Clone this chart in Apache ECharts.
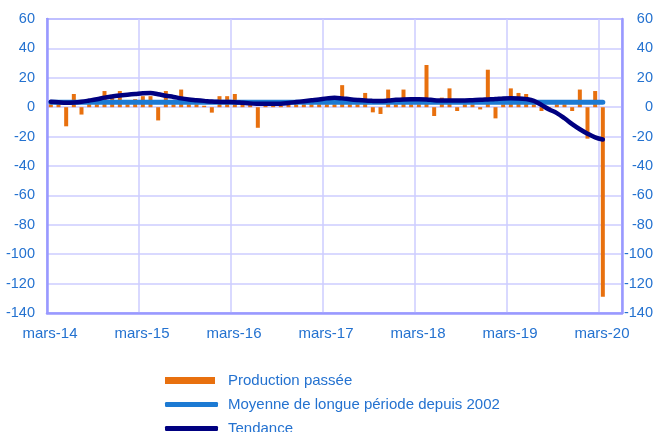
<!DOCTYPE html>
<html>
<head>
<meta charset="utf-8">
<script src="https://cdn.jsdelivr.net/npm/echarts@6/dist/echarts.min.js"></script>
<style>
  html, body { margin: 0; padding: 0; background: #fff; }
  #chart { width: 659px; height: 432px; }
</style>
</head>
<body>
<div id="chart"></div>
<script>
// étiquettes de l'axe des dates (une tous les 12 mois)
var yearLabels = ['mars-14', 'mars-15', 'mars-16', 'mars-17', 'mars-18', 'mars-19', 'mars-20'];

// production passée, mensuel de mars-14 à mars-20
var production = [
  2, 2, -13, 9, -5, 2, 2, 11, 8.5, 11, 2, 5.5,
  7.5, 7.5, -9, 11, 2, 12, 2, 2, 1, -3.7, 7.5, 7.5,
  9, 2, 2, -14, 1.5, 1, 1, 1.5, 2, 2, 2, 2,
  2, 2, 15, 2, 2, 9.7, -3.5, -4.6, 12, 2, 12, 2,
  2, 28.7, -6, 6.5, 12.8, -2.6, 2, 2, -1.5, 25.5, -7.6, 2,
  12.8, 9.7, 9, 2, -2.6, -1, 2, 2, -2.6, 12, -21.4, 11,
  -129
];

// moyenne de longue période depuis 2002
var moyenne = [];
for (var k = 0; k < production.length; k++) moyenne.push(3.3);

// tendance
var tendance = [
  3.7, 3.3, 3.0, 3.2, 3.7, 4.5, 5.4, 6.5, 7.3, 8.0, 8.5, 9.0,
  9.5, 9.6, 8.8, 7.8, 7.0, 6.0, 5.3, 4.8, 4.3, 3.8, 3.6, 3.5,
  3.4, 3.0, 2.6, 2.4, 2.3, 2.3, 2.4, 2.9, 3.5, 4.1, 4.7, 5.3,
  6.0, 6.4, 6.0, 5.4, 4.9, 4.5, 4.3, 4.2, 4.5, 5.0, 5.3, 5.4,
  5.4, 5.3, 4.8, 4.6, 4.5, 4.5, 4.6, 4.8, 5.0, 5.3, 5.6, 6.0,
  6.1, 6.0, 5.5, 4.3, 1.5, -1.5, -4.0, -7.5, -11.5, -15.0, -18.0, -20.5,
  -22.0
];

var seriesNames = ['Production passée', 'Moyenne de longue période depuis 2002', 'Tendance'];

// chaque mois est centré dans sa case (axe en mois depuis mars-14)
function toPoints(arr) {
  return arr.map(function (v, i) { return [i + 0.5, v]; });
}

var blue = '#2472D0';
var font = 'Liberation Sans, Arial, sans-serif';

var chart = echarts.init(document.getElementById('chart'));

var yAxisBase = {
  type: 'value',
  min: -140,
  max: 60,
  interval: 20,
  axisLine: { show: true, lineStyle: { color: '#9999ff', width: 2.5 } },
  axisTick: { show: false },
  splitLine: { show: true, lineStyle: { color: '#ccccff', width: 1.5 } }
};

var legendBase = {
  orient: 'horizontal',
  left: 160,
  selectedMode: false
};

function legendText(padLeft) {
  return { color: blue, fontSize: 15, fontFamily: font, padding: [0, 0, 0, padLeft] };
}

var option = {
  animation: false,
  backgroundColor: '#fff',
  grid: {
    left: 47, right: 37, top: 19, bottom: 119,
    show: true, borderColor: '#9999ff', borderWidth: 2
  },
  legend: [
    Object.assign({}, legendBase, {
      top: 368, data: [seriesNames[0]], icon: 'rect', itemWidth: 50, itemHeight: 7,
      textStyle: legendText(8)
    }),
    Object.assign({}, legendBase, {
      top: 392, data: [seriesNames[1]], icon: 'roundRect', itemWidth: 53, itemHeight: 5,
      textStyle: legendText(5)
    }),
    Object.assign({}, legendBase, {
      top: 416, data: [seriesNames[2]], icon: 'roundRect', itemWidth: 53, itemHeight: 5,
      textStyle: legendText(5)
    })
  ],
  xAxis: {
    type: 'value',
    min: 0,
    max: 75,
    interval: 12,
    axisLine: { show: true, onZero: false, lineStyle: { color: '#9999ff', width: 2.5 } },
    axisTick: { show: false },
    splitLine: { show: true, lineStyle: { color: '#ccccff', width: 1.5 } },
    axisLabel: {
      color: blue, fontSize: 15, fontFamily: font, margin: 13,
      padding: [0, 0, 0, 6],
      showMaxLabel: false,
      formatter: function (v) { return v % 12 === 0 ? yearLabels[v / 12] : ''; }
    }
  },
  yAxis: [
    Object.assign({}, yAxisBase, {
      position: 'left',
      axisLabel: { color: blue, fontSize: 14.5, fontFamily: font, margin: 12 }
    }),
    Object.assign({}, yAxisBase, {
      position: 'right',
      splitLine: { show: false },
      axisLabel: { color: blue, fontSize: 14.5, fontFamily: font, margin: 31, align: 'right' }
    })
  ],
  series: [
    {
      name: seriesNames[0],
      type: 'bar',
      barWidth: 4,
      itemStyle: { color: '#E8700E' },
      data: toPoints(production)
    },
    {
      name: seriesNames[1],
      type: 'line',
      symbol: 'none',
      lineStyle: { color: '#1C7AD3', width: 5, cap: 'round' },
      itemStyle: { color: '#1C7AD3' },
      data: toPoints(moyenne)
    },
    {
      name: seriesNames[2],
      type: 'line',
      symbol: 'none',
      smooth: 0.4,
      lineStyle: { color: '#000080', width: 4.5, cap: 'round' },
      itemStyle: { color: '#000080' },
      data: toPoints(tendance)
    }
  ]
};

chart.setOption(option);
</script>
</body>
</html>
